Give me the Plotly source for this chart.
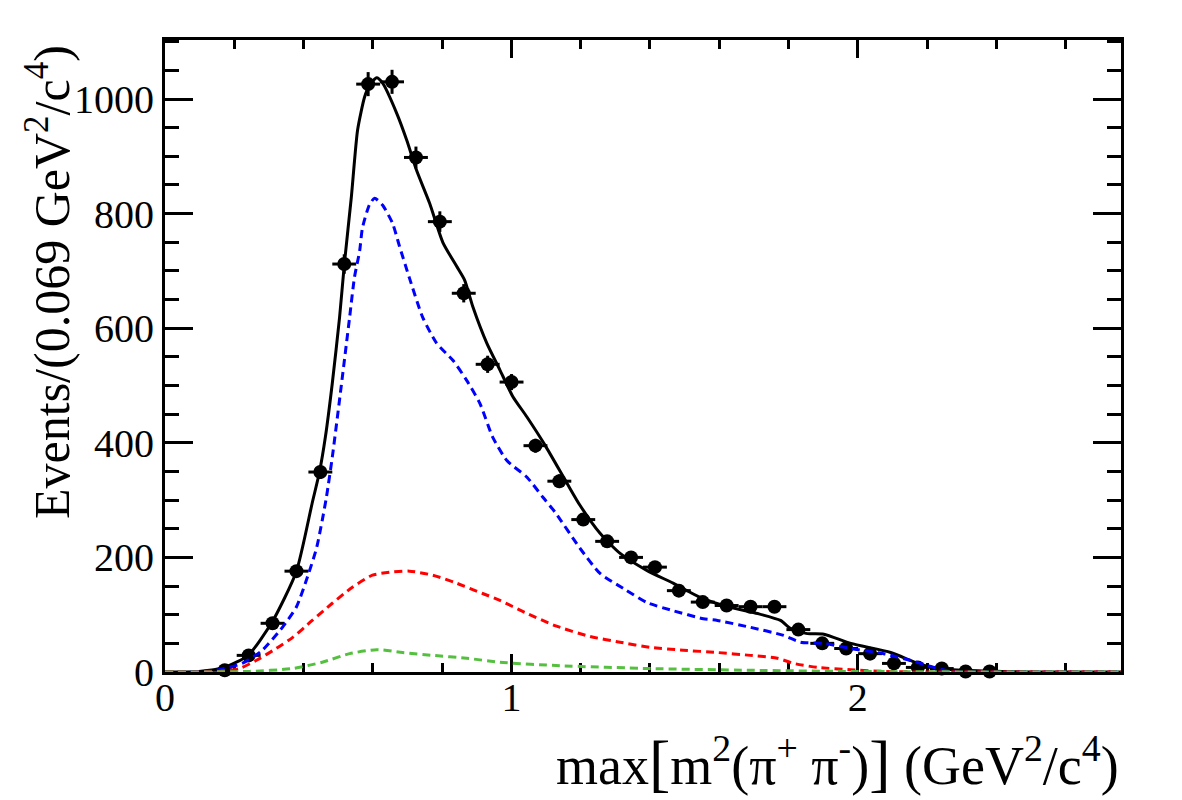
import plotly.graph_objects as go

# ---------------- data ----------------
bin_half_width = 0.0345

data_x = [0.1725, 0.2415, 0.3105, 0.3795, 0.4485, 0.5175, 0.5865, 0.6555, 0.7245,
          0.7935, 0.8625, 0.9315, 1.0005, 1.0695, 1.1385, 1.2075, 1.2765, 1.3455,
          1.4145, 1.4835, 1.5525, 1.6215, 1.6905, 1.7595, 1.8285, 1.8975, 1.9665,
          2.0355, 2.1045, 2.1735, 2.2425, 2.3115, 2.3805]
data_y = [3, 29, 85, 176, 349, 712, 1026, 1030, 898,
          786, 661, 537, 506, 395, 333, 266, 228, 200,
          183, 142, 122, 116, 114, 114, 74, 50, 41,
          32, 15, 8, 6, 1, 1]
data_err = [2, 4, 6, 9, 12, 17, 21, 21, 19,
            18, 16, 15, 14, 12, 12, 10, 10, 9,
            9, 8, 7, 7, 7, 7, 6, 5, 4,
            4, 3, 2, 2, 1, 1]

total_x = [0.0, 0.032, 0.098, 0.171, 0.240, 0.310, 0.379, 0.425, 0.446, 0.463, 0.483,
           0.504, 0.518, 0.538, 0.556, 0.576, 0.590, 0.611, 0.628, 0.669, 0.698,
           0.726, 0.764, 0.802, 0.842, 0.865, 0.889, 0.929, 0.967, 1.004, 1.045,
           1.097, 1.161, 1.198, 1.256, 1.314, 1.392, 1.467, 1.546, 1.632, 1.711,
           1.777, 1.806, 1.855, 1.902, 1.980, 2.095, 2.174, 2.232, 2.307, 2.414,
           2.500, 2.760]
total_y = [0, 0, 1, 8, 29, 88, 175, 295, 349, 410, 504,
           619, 713, 829, 946, 1003, 1024, 1037, 1028, 975, 928,
           876, 818, 750, 708, 684, 637, 574, 527, 481, 445,
           396, 329, 291, 242, 207, 177, 155, 130, 113, 102,
           90, 76, 67, 66, 50, 34, 15, 6, 3, 1,
           0, 0]

sig_x = [0.0, 0.032, 0.148, 0.223, 0.281, 0.339, 0.379, 0.408, 0.437, 0.454, 0.466,
         0.483, 0.509, 0.533, 0.547, 0.562, 0.570, 0.590, 0.605, 0.628, 0.657,
         0.677, 0.706, 0.744, 0.784, 0.831, 0.871, 0.909, 0.946, 0.987, 1.045,
         1.091, 1.126, 1.198, 1.256, 1.323, 1.392, 1.467, 1.554, 1.595, 1.690,
         1.786, 1.835, 1.902, 1.980, 2.075, 2.153, 2.220, 2.269, 2.350, 2.760]
sig_y = [0, 0, 3, 15, 38, 78, 113, 160, 215, 265, 305,
         375, 500, 619, 689, 735, 775, 815, 827, 815, 783,
         743, 687, 619, 574, 544, 509, 469, 410, 369, 340,
         305, 279, 216, 172, 146, 121, 107, 93, 90, 78,
         64, 52, 50, 41, 32, 20, 8, 1, 0, 0]

bkg1_x = [0.0, 0.032, 0.156, 0.214, 0.263, 0.321, 0.368, 0.425, 0.483, 0.541, 0.599,
          0.648, 0.706, 0.773, 0.842, 0.917, 0.967, 1.039, 1.126, 1.227, 1.314,
          1.401, 1.496, 1.595, 1.690, 1.768, 1.815, 1.884, 1.980, 2.075, 2.200, 2.760]
bkg1_y = [0, 0, 1, 6, 20, 41, 60, 90, 120, 148, 169,
          174, 176, 169, 155, 137, 125, 104, 81, 62, 52,
          43, 38, 34, 29, 24, 15, 8, 4, 1, 0, 0]

bkg2_x = [0.0, 0.050, 0.243, 0.368, 0.454, 0.533, 0.611, 0.686, 0.773, 0.871, 0.967,
          1.140, 1.400, 1.690, 1.980, 2.410, 2.760]
bkg2_y = [0, 0, 1, 6, 17, 32, 39, 34, 29, 24, 17,
          11, 6, 3, 1, 0, 0]

x_ticks = [0, 1, 2]
y_ticks = [0, 200, 400, 600, 800, 1000]

FONT = "Liberation Serif"
TICKFONT = dict(family=FONT, size=40, color="black")

fig = go.Figure()

fig.add_trace(go.Scatter(
    x=data_x, y=data_y, mode="markers",
    marker=dict(color="black", size=14, symbol="circle"),
    error_y=dict(type="data", array=data_err, color="black", thickness=3, width=0),
    error_x=dict(type="constant", value=bin_half_width, color="black", thickness=3, width=0),
    cliponaxis=False, showlegend=False))

fig.add_trace(go.Scatter(x=total_x, y=total_y, mode="lines",
                         line=dict(color="black", width=3, shape="spline", smoothing=0.6),
                         showlegend=False))
fig.add_trace(go.Scatter(x=sig_x, y=sig_y, mode="lines",
                         line=dict(color="#0000ff", width=3, dash="8px,5px", shape="spline", smoothing=0.6),
                         showlegend=False))
fig.add_trace(go.Scatter(x=bkg1_x, y=bkg1_y, mode="lines",
                         line=dict(color="#ff0000", width=3, dash="8px,5px", shape="spline", smoothing=0.6),
                         showlegend=False))
fig.add_trace(go.Scatter(x=bkg2_x, y=bkg2_y, mode="lines",
                         line=dict(color="#55c040", width=3, dash="8px,5px", shape="spline", smoothing=0.6),
                         showlegend=False))

fig.update_layout(
    width=1182, height=800,
    margin=dict(l=165, r=61, t=40, b=128),
    paper_bgcolor="white", plot_bgcolor="white",
    showlegend=False,
    font=dict(family=FONT, size=40, color="black"),
    xaxis=dict(
        range=[0, 2.76], tickmode="array", tickvals=x_ticks, ticktext=[str(v) for v in x_ticks],
        showline=True, linecolor="black", linewidth=3, mirror="ticks",
        ticks="inside", tickcolor="black", tickwidth=3, ticklen=18,
        showgrid=False, zeroline=False, layer="below traces",
        tickfont=TICKFONT, ticklabelstandoff=-12,
        minor=dict(dtick=0.2, tick0=0, ticks="inside", ticklen=9, tickwidth=3,
                   tickcolor="black", showgrid=False),
    ),
    yaxis=dict(
        range=[0, 1103], tickmode="array", tickvals=y_ticks, ticktext=[str(v) for v in y_ticks],
        showline=True, linecolor="black", linewidth=3, mirror="ticks",
        ticks="inside", tickcolor="black", tickwidth=3, ticklen=28,
        showgrid=False, zeroline=False, layer="below traces",
        tickfont=TICKFONT,
        minor=dict(dtick=50, tick0=0, ticks="inside", ticklen=14, tickwidth=3,
                   tickcolor="black", showgrid=False),
    ),
)

fig.add_annotation(
    text="Events/(0.069 GeV<sup>2</sup>/c<sup>4</sup>)",
    xref="paper", yref="paper", x=-(165 - 48) / 956, y=(672 - 282) / 632,
    xanchor="center", yanchor="middle", textangle=-90, showarrow=False,
    font=dict(family=FONT, size=50, color="black"))

fig.add_annotation(
    text="max<span style=\"font-size:64px\">[</span>m<sup>2</sup>(π<sup>+</sup> π<sup>-</sup>)<span style=\"font-size:64px\">]</span> (GeV<sup>2</sup>/c<sup>4</sup>)",
    xref="paper", yref="paper", x=1.0, y=-(762 - 672) / 632,
    xanchor="right", yanchor="middle", showarrow=False,
    font=dict(family=FONT, size=54, color="black"))

fig.write_html("out.html")
